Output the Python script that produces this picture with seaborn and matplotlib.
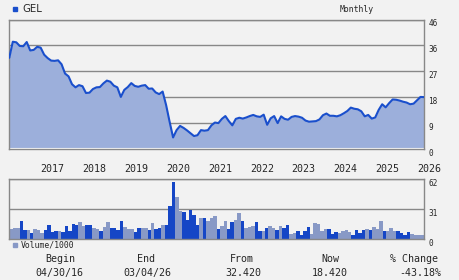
import numpy as np
import pandas as pd
import matplotlib
matplotlib.use("Agg")
import matplotlib.pyplot as plt
import seaborn as sns

ticker = "GEL"
months = pd.period_range("2016-04", "2026-03", freq="M")
price = [32.4, 38.1, 37.9, 36.6, 36.5, 38.0, 35.0, 35.2, 36.3, 36.0,
         33.5, 32.3, 31.4, 31.3, 31.5, 30.1, 26.8, 25.8, 23.0, 21.9,
         22.7, 22.3, 19.9, 20.0, 21.3, 21.9, 22.0, 23.3, 24.3, 23.9,
         22.5, 21.9, 18.5, 21.0, 22.0, 23.4, 22.4, 22.1, 22.5, 22.7,
         21.4, 21.5, 20.1, 19.5, 20.4, 15.6, 9.7, 4.1, 6.7, 8.2,
         7.5, 6.6, 5.6, 4.6, 4.9, 6.7, 6.5, 6.7, 8.4, 9.4,
         9.2, 10.7, 11.7, 9.9, 8.4, 10.7, 11.1, 10.8, 11.2, 11.7,
         12.1, 11.6, 11.4, 12.2, 8.6, 10.9, 11.7, 9.2, 11.6, 10.7,
         10.4, 11.4, 11.7, 11.5, 11.1, 10.1, 9.7, 9.8, 9.9, 10.5,
         12.0, 12.6, 11.8, 11.8, 11.6, 12.0, 12.7, 13.5, 14.7, 14.3,
         14.1, 13.4, 11.6, 12.1, 10.8, 11.2, 13.9, 15.9, 14.8, 16.3,
         17.6, 17.5, 17.2, 16.8, 16.5, 15.9, 16.1, 17.3, 18.5, 18.42]
volume = [10.4, 11.1, 11.1, 18.5, 9.1, 9.1, 5.9, 10.1, 9.1, 5.9,
          9.1, 14.3, 7.0, 8.0, 8.0, 7.0, 13.2, 8.0, 15.3, 14.3,
          17.4, 13.2, 14.3, 14.3, 11.1, 10.1, 8.0, 12.2, 17.4, 11.1,
          11.1, 9.1, 18.5, 12.2, 10.1, 10.1, 7.0, 11.1, 11.1, 11.1,
          9.1, 16.4, 10.1, 11.1, 14.3, 14.3, 34.1, 59.2, 43.5, 28.9,
          27.9, 19.5, 30.0, 24.7, 14.3, 21.6, 21.6, 18.5, 21.6, 23.7,
          10.1, 13.2, 18.5, 10.1, 17.4, 19.5, 26.8, 18.5, 11.1, 12.2,
          13.2, 17.4, 8.0, 8.0, 11.1, 13.2, 11.1, 9.1, 13.2, 11.1,
          14.3, 4.5, 6.0, 8.0, 4.0, 8.0, 12.0, 5.0, 16.5, 15.5,
          8.0, 10.0, 10.0, 5.0, 7.0, 6.0, 8.0, 9.0, 7.0, 4.0,
          9.0, 6.0, 9.0, 10.0, 9.0, 12.0, 10.0, 18.5, 8.0, 8.0,
          11.0, 8.0, 8.0, 6.0, 4.0, 7.0, 5.0, 4.0, 4.0, 4.0]
direction = list("UUUDDUDUUU" "DDDDUDDDDD" "UUDDUUDUUD" "DDDUUUDDUU"
                 "DUDDUDDDUU" "DDDDDUDUUU" "DUUDDUUDUU" "UDDUDUUDUD"
                 "DUUDDDDUUU" "UUDDDUUUUD" "DDDUDUUUDU" "UUDDDDUUUU")
price_ticks = [0, 9.2, 18.4, 27.6, 36.8, 46]
price_tick_labels = ["0", "9", "18", "27", "36", "46"]
vol_ticks = [0, 31, 62]
vol_tick_labels = ["0", "31", "62"]
summary_heads = ["Begin", "End", "From", "Now", "% Change"]
summary_vals = ["04/30/16", "03/04/26", "32.420", "18.420", "-43.18%"]

BG = "#f2f2f2"
GRID = "#888888"
LINE = "#1a4fcc"
FILL = "#9cafdb"
DARK = "#1546c6"
LIGHT = "#8899c6"

sns.set_style("white")
plt.rcParams["font.family"] = ["DejaVu Sans Mono", "DejaVu Sans"]

df = pd.DataFrame({"idx": np.arange(len(months)), "price": price,
                   "volume": volume, "dir": direction})

fig = plt.figure(figsize=(4.6, 2.8), dpi=100, facecolor=BG)
ax = fig.add_axes([9.3 / 460, 1 - 149 / 280, (424 - 9.3) / 460, (149 - 19.5) / 280])
vax = fig.add_axes([9.3 / 460, 1 - 238.7 / 280, (424 - 9.3) / 460, (238.7 - 179.3) / 280])

for a in (ax, vax):
    a.set_facecolor(BG)
    for s in a.spines.values():
        s.set_color(GRID)
        s.set_linewidth(1.0)
    a.set_axisbelow(True)

# price panel
ax.fill_between(df["idx"], df["price"], color=FILL, lw=0, zorder=2)
ax.axhline(0.35, color="white", lw=0.8, zorder=2.5)
sns.lineplot(data=df, x="idx", y="price", ax=ax, color=LINE, lw=1.5, zorder=3)
ax.set_xlim(0, len(months) - 1)
ax.set_ylim(0, 46)
ax.set_yticks(price_ticks)
ax.set_yticklabels(price_tick_labels)
ax.yaxis.tick_right()
ax.yaxis.grid(True, color=GRID, lw=1.0)
ax.xaxis.grid(False)
jan = [i for i, m in enumerate(months) if m.month == 1]
ax.set_xticks(jan)
ax.set_xticklabels([str(months[i].year) for i in jan], ha="left")
ax.tick_params(axis="x", length=0, pad=11, labelsize=7.2)
ax.tick_params(axis="y", length=0, pad=3, labelsize=5.6)
for lab in ax.get_yticklabels():
    lab.set_va("top")
ax.set_xlabel("")
ax.set_ylabel("")

# volume panel
sns.barplot(data=df, x="idx", y="volume", hue="dir",
            palette={"U": LIGHT, "D": DARK}, dodge=False, width=1.0,
            saturation=1, errorbar=None, legend=False, linewidth=0,
            ax=vax, zorder=2)
vax.set_xlim(-0.5, len(months) - 0.5)
vax.set_ylim(0, 62)
vax.set_yticks(vol_ticks)
vax.set_yticklabels(vol_tick_labels)
vax.yaxis.tick_right()
vax.yaxis.grid(True, color=GRID, lw=1.0)
vax.xaxis.grid(False)
vax.set_xticks([])
vax.tick_params(axis="y", length=0, pad=3, labelsize=5.6)
for lab in vax.get_yticklabels():
    lab.set_va("top")
vax.set_xlabel("")
vax.set_ylabel("")

# legends / labels
fig.patches.append(plt.Rectangle((13.3 / 460, 1 - 11.3 / 280), 4 / 460, 4 / 280,
                                 transform=fig.transFigure, color=LINE))
fig.text(22 / 460, 1 - 9.5 / 280, ticker, fontsize=7.3, va="center", ha="left",
         family="DejaVu Sans")
fig.text(357 / 460, 1 - 9 / 280, "Monthly", fontsize=5.9, va="center", ha="center")
fig.patches.append(plt.Rectangle((13.3 / 460, 1 - 247.3 / 280), 4 / 460, 4 / 280,
                                 transform=fig.transFigure, color=LIGHT))
fig.text(20.7 / 460, 1 - 245.3 / 280, "Volume/1000", fontsize=5.9, va="center", ha="left")

head_x = [60, 146, 242, 330, 414]
val_x = [59.5, 147.5, 243, 329.5, 420]
for hx, vx, h, v in zip(head_x, val_x, summary_heads, summary_vals):
    fig.text(hx / 460, 1 - 259.3 / 280, h, fontsize=7.2, ha="center", va="center")
    fig.text(vx / 460, 1 - 273.3 / 280, v, fontsize=7.2, ha="center", va="center")

fig.savefig("out.png", dpi=100, facecolor=BG)
